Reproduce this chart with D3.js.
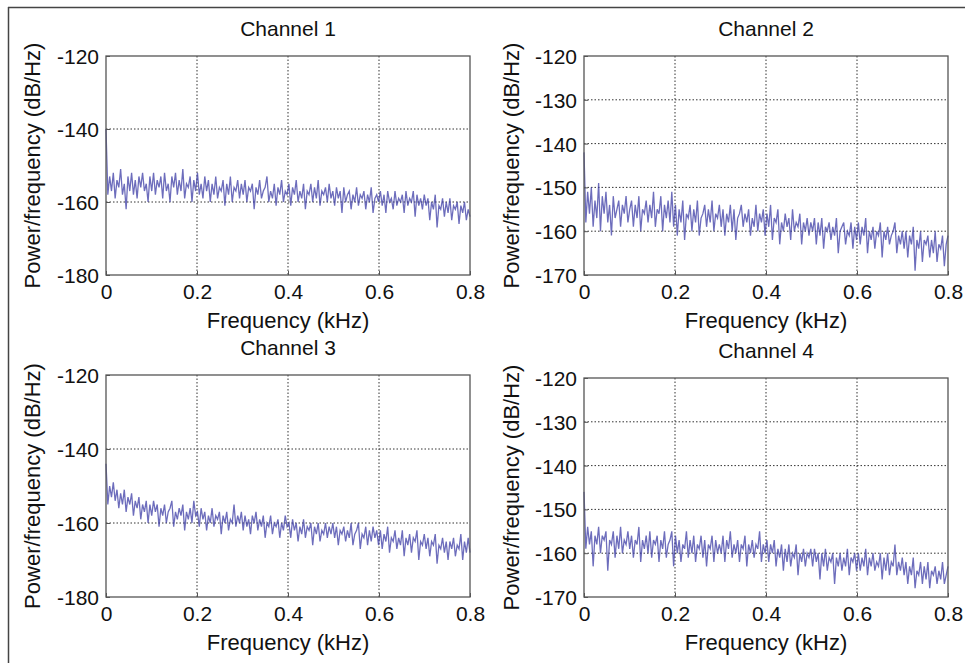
<!DOCTYPE html>
<html>
<head>
<meta charset="utf-8">
<script src="https://cdn.jsdelivr.net/npm/d3@7"></script>
<style>
  body { margin: 0; background: #fff; }
  svg { display: block; font-family: Arial, "Liberation Sans", sans-serif; }
</style>
</head>
<body>
<svg id="chart" width="965" height="663"></svg>
<script>
// power spectral density, dB/Hz, 200 bins from 0 to 0.8 kHz
var ch1 = [
  -140,-158,-153,-157,-152,-159,-154,-156,-151,-158,-155,-162,-153,-157,-152,-158,-154,-159,-153,-156,-152,-157,-155,-160,-153,
  -157,-152,-158,-154,-156,-153,-159,-152,-157,-155,-160,-153,-156,-152,-158,-154,-157,-151,-159,-155,-156,-153,-160,-154,-157,
  -152,-158,-155,-159,-153,-157,-154,-160,-155,-158,-153,-159,-156,-157,-154,-161,-155,-158,-153,-160,-156,-157,-154,-159,-155,
  -158,-154,-160,-156,-157,-155,-162,-156,-158,-154,-159,-157,-156,-153,-160,-157,-159,-155,-161,-156,-158,-154,-160,-157,-158,
  -155,-161,-156,-158,-154,-160,-157,-159,-155,-162,-157,-158,-155,-160,-156,-159,-154,-161,-157,-158,-156,-160,-155,-159,-157,
  -161,-156,-159,-157,-163,-156,-160,-158,-157,-162,-158,-160,-156,-161,-158,-159,-157,-162,-158,-160,-156,-163,-159,-158,-160,
  -157,-161,-158,-163,-157,-160,-159,-162,-157,-161,-159,-160,-158,-163,-157,-161,-159,-160,-157,-164,-158,-161,-159,-162,-158,
  -161,-159,-165,-160,-162,-158,-167,-161,-162,-159,-164,-160,-163,-159,-165,-161,-162,-160,-166,-161,-163,-160,-165,-162,-164
];
var ch2 = [
  -142,-158,-151,-156,-150,-159,-153,-157,-149,-160,-152,-156,-151,-158,-154,-161,-152,-157,-155,-153,-159,-154,-156,-152,-158,
  -155,-153,-159,-154,-157,-152,-160,-155,-156,-153,-158,-154,-157,-151,-159,-155,-156,-152,-160,-154,-157,-153,-158,-151,-159,
  -154,-161,-155,-158,-153,-162,-156,-157,-154,-160,-155,-158,-153,-161,-157,-156,-154,-159,-155,-158,-153,-160,-156,-157,-154,
  -159,-155,-161,-156,-158,-154,-160,-155,-162,-157,-156,-154,-159,-156,-158,-155,-161,-157,-159,-154,-160,-156,-158,-155,-161,
  -156,-159,-154,-162,-157,-158,-155,-163,-158,-160,-156,-159,-157,-162,-155,-160,-158,-159,-156,-163,-158,-160,-157,-161,-158,
  -160,-157,-163,-158,-161,-157,-164,-159,-160,-158,-162,-159,-161,-157,-165,-160,-159,-158,-163,-160,-161,-158,-164,-159,-162,
  -158,-163,-159,-161,-157,-165,-160,-162,-159,-164,-160,-161,-158,-166,-160,-162,-159,-163,-161,-160,-158,-165,-161,-163,-160,
  -164,-160,-166,-161,-163,-159,-169,-162,-164,-160,-167,-162,-163,-161,-166,-162,-165,-160,-167,-163,-164,-161,-168,-163,-161
];
var ch3 = [
  -144,-155,-150,-153,-149,-154,-151,-156,-152,-155,-151,-157,-153,-155,-152,-158,-154,-156,-153,-159,-155,-157,-154,-160,-155,
  -158,-154,-157,-155,-161,-156,-158,-155,-160,-157,-156,-154,-161,-157,-159,-156,-158,-155,-162,-157,-159,-156,-160,-154,-158,
  -157,-161,-156,-159,-157,-162,-158,-160,-156,-161,-158,-159,-157,-163,-158,-160,-157,-162,-159,-160,-155,-161,-158,-160,-157,
  -162,-158,-161,-159,-163,-158,-160,-157,-162,-159,-161,-158,-164,-160,-161,-158,-163,-160,-161,-159,-164,-160,-162,-158,-161,
  -160,-164,-159,-162,-160,-165,-161,-163,-159,-164,-161,-162,-160,-166,-161,-163,-160,-165,-162,-163,-160,-164,-161,-163,-160,
  -164,-161,-166,-162,-163,-161,-165,-162,-164,-160,-166,-163,-162,-160,-167,-163,-164,-161,-166,-162,-165,-161,-164,-162,-166,
  -162,-167,-163,-165,-161,-168,-164,-165,-162,-167,-164,-166,-162,-169,-164,-166,-163,-168,-164,-165,-162,-170,-165,-166,-163,
  -167,-164,-169,-165,-166,-163,-171,-166,-167,-164,-168,-165,-170,-165,-167,-164,-169,-166,-167,-163,-170,-165,-168,-164,-168
];
var ch4 = [
  -146,-159,-154,-158,-155,-163,-156,-158,-154,-160,-156,-157,-155,-164,-157,-158,-155,-161,-156,-159,-154,-160,-157,-158,-155,
  -159,-156,-161,-157,-158,-154,-162,-157,-159,-156,-160,-155,-161,-157,-158,-156,-162,-157,-159,-155,-161,-158,-157,-155,-163,
  -156,-160,-157,-162,-158,-159,-155,-161,-157,-160,-156,-162,-158,-159,-156,-161,-157,-163,-158,-159,-156,-162,-157,-160,-158,
  -160,-156,-162,-157,-159,-155,-161,-158,-160,-157,-162,-158,-159,-156,-163,-158,-160,-157,-161,-158,-159,-155,-162,-158,-160,
  -157,-162,-158,-160,-157,-163,-159,-161,-158,-164,-159,-162,-158,-163,-160,-161,-158,-165,-160,-162,-159,-163,-160,-161,-159,
  -163,-159,-162,-160,-166,-160,-163,-159,-164,-161,-162,-160,-167,-161,-163,-160,-164,-161,-163,-159,-165,-161,-162,-160,-164,
  -160,-164,-161,-163,-159,-165,-161,-163,-160,-164,-162,-163,-160,-166,-161,-164,-160,-165,-162,-163,-158,-165,-162,-164,-161,
  -165,-162,-167,-163,-165,-161,-168,-164,-165,-162,-167,-163,-166,-162,-168,-164,-165,-163,-167,-164,-166,-162,-167,-165,-163
];

var titles = ['Channel 1', 'Channel 2', 'Channel 3', 'Channel 4'];
var series = [ch1, ch2, ch3, ch4];
var xTicks = [0, 0.2, 0.4, 0.6, 0.8];
var yTicksA = [-180, -160, -140, -120];
var yTicksB = [-170, -160, -150, -140, -130, -120];
var yDomains = [[-180, -120], [-170, -120], [-180, -120], [-170, -120]];
var xLabel = 'Frequency (kHz)';
var yLabel = 'Power/frequency (dB/Hz)';

// panel boxes
var panels = [
    {x: 106, y: 56, w: 364, h: 219, yt: yTicksA, lx: 32},
    {x: 584, y: 56, w: 364, h: 219, yt: yTicksB, lx: 511},
    {x: 106, y: 375, w: 364, h: 222, yt: yTicksA, lx: 32},
    {x: 584, y: 378, w: 364, h: 219, yt: yTicksB, lx: 511}
];

var svg = d3.select('#chart');

// outer frame (top and left edges)
svg.append('line').attr('x1', 8).attr('y1', 7.5).attr('x2', 965).attr('y2', 7.5)
    .style('stroke', '#444').style('stroke-width', 1.5);
svg.append('line').attr('x1', 8.5).attr('y1', 7).attr('x2', 8.5).attr('y2', 663)
    .style('stroke', '#444').style('stroke-width', 1.5);

function label(v) { return String(v); }

panels.forEach(function(p, k) {
    var g = svg.append('g').attr('transform', 'translate(' + p.x + ',' + p.y + ')');
    var x = d3.scaleLinear().domain([0, 0.8]).range([0, p.w]);
    var y = d3.scaleLinear().domain(yDomains[k]).range([p.h, 0]);
    var vals = series[k];
    var step = 0.8 / (vals.length - 1);

    // dotted grid
    xTicks.slice(1, -1).forEach(function(t) {
        g.append('line')
            .attr('x1', x(t)).attr('x2', x(t)).attr('y1', 0).attr('y2', p.h)
            .style('stroke', '#333').style('stroke-width', 1)
            .style('stroke-dasharray', '1.5,2');
    });
    p.yt.slice(1, -1).forEach(function(t) {
        g.append('line')
            .attr('x1', 0).attr('x2', p.w).attr('y1', y(t)).attr('y2', y(t))
            .style('stroke', '#333').style('stroke-width', 1)
            .style('stroke-dasharray', '1.5,2');
    });

    var line = d3.line()
        .x(function(d, i) { return x(i * step); })
        .y(function(d) { return y(d); });
    g.append('path')
        .datum(vals)
        .attr('d', line)
        .style('fill', 'none')
        .style('stroke', '#3c3ca6')
        .style('stroke-width', 1.3)
        .style('stroke-opacity', 0.75);

    // box
    g.append('rect')
        .attr('x', 0).attr('y', 0).attr('width', p.w).attr('height', p.h)
        .style('fill', 'none').style('stroke', '#555').style('stroke-width', 1.3);

    var xAxis = d3.axisBottom(x).tickValues(xTicks).tickFormat(label).tickSizeInner(-4).tickSizeOuter(0).tickPadding(10);
    var gx = g.append('g').attr('transform', 'translate(0,' + p.h + ')').call(xAxis);
    var yAxis = d3.axisLeft(y).tickValues(p.yt).tickFormat(label).tickSizeInner(-4).tickSizeOuter(0).tickPadding(7);
    var gy = g.append('g').call(yAxis);
    [gx, gy].forEach(function(a) {
        a.select('.domain').remove();
        a.selectAll('.tick line').style('stroke', '#555');
        a.selectAll('.tick text').style('font-size', '21px').style('fill', '#111')
            .style('font-family', 'Arial, "Liberation Sans", sans-serif');
    });
    gx.selectAll('.tick text').attr('dy', null).attr('y', 24);
    gy.selectAll('.tick text').attr('dy', '0.36em');

    g.append('text')
        .attr('x', p.w / 2)
        .attr('y', -20)
        .attr('text-anchor', 'middle')
        .text(titles[k])
        .style('font-size', '21px')
        .style('fill', '#111');

    g.append('text')
        .attr('x', p.w / 2)
        .attr('y', p.h + 53)
        .attr('text-anchor', 'middle')
        .text(xLabel)
        .style('font-size', '22px')
        .style('fill', '#111');

    g.append('text')
        .attr('transform', 'translate(' + (p.lx - p.x) + ',' + (p.h / 2) + ') rotate(-90)')
        .attr('text-anchor', 'middle')
        .attr('dy', '0.35em')
        .text(yLabel)
        .style('font-size', '22px')
        .style('fill', '#111');
});
</script>
</body>
</html>
